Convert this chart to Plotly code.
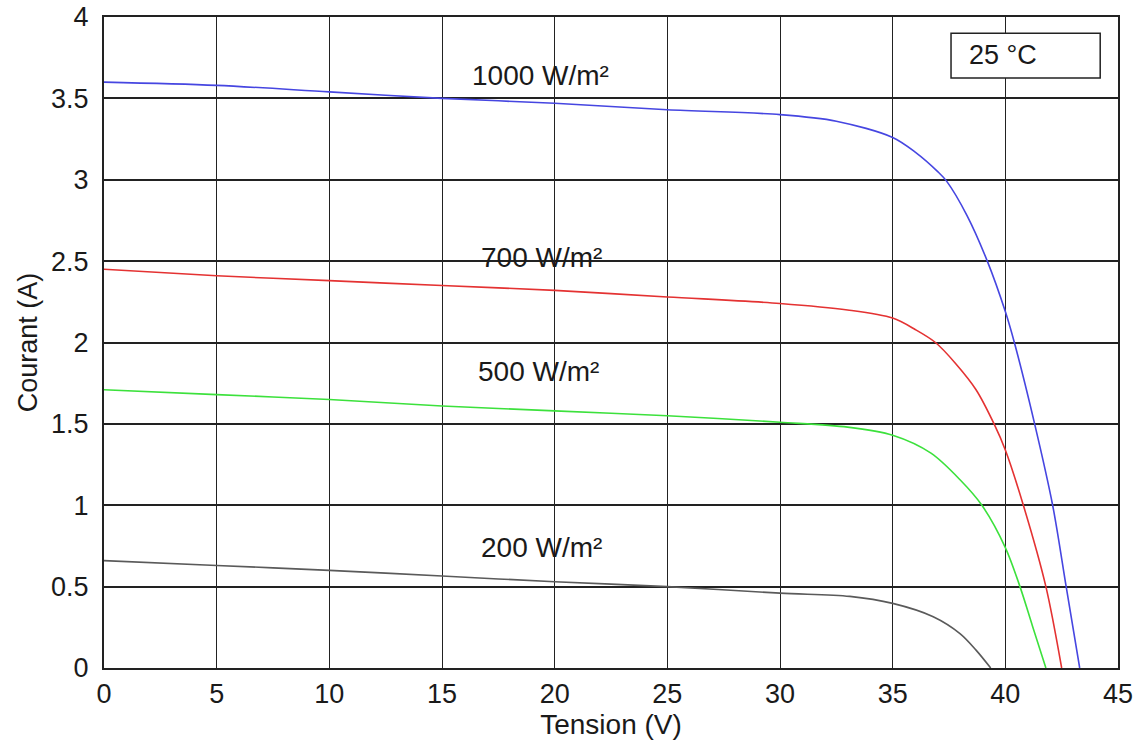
import plotly.graph_objects as go

# ---- data ----
v_1000 = [0, 5, 10, 15, 20, 25, 30, 32.5, 35, 36, 37, 37.4, 38.3, 39.2, 40, 40.4, 41.3, 42.1, 42.7, 43.3]
i_1000 = [3.60, 3.58, 3.54, 3.50, 3.47, 3.43, 3.40, 3.36, 3.26, 3.17, 3.05, 2.99, 2.78, 2.50, 2.19, 2.00, 1.50, 1.00, 0.50, 0.0]

v_700 = [0, 5, 10, 15, 20, 25, 30, 33, 35, 36, 36.9, 37.8, 38.7, 39.5, 40, 40.8, 41.8, 42.5]
i_700 = [2.45, 2.41, 2.38, 2.35, 2.32, 2.28, 2.24, 2.20, 2.15, 2.08, 2.00, 1.87, 1.71, 1.50, 1.34, 1.00, 0.50, 0.0]

v_500 = [0, 5, 10, 15, 20, 25, 30, 33, 35, 36.7, 38, 38.96, 40, 40.65, 41.2, 41.8]
i_500 = [1.71, 1.68, 1.65, 1.61, 1.58, 1.55, 1.51, 1.48, 1.43, 1.32, 1.155, 1.00, 0.74, 0.50, 0.26, 0.0]

v_200 = [0, 5, 10, 15, 20, 25, 30, 33.1, 35, 36.8, 38.0, 38.7, 39.35]
i_200 = [0.66, 0.63, 0.60, 0.565, 0.53, 0.50, 0.46, 0.44, 0.397, 0.315, 0.21, 0.11, 0.0]

series_names = ["1000 W/m²", "700 W/m²", "500 W/m²", "200 W/m²"]
series_colors = ["rgb(70,70,225)", "rgb(228,50,50)", "rgb(60,225,60)", "rgb(90,90,90)"]
label_x = [19.35, 19.4, 19.3, 19.4]
label_y = [3.64, 2.52, 1.82, 0.74]

x_ticks = [0, 5, 10, 15, 20, 25, 30, 35, 40, 45]
y_ticks = [0, 0.5, 1, 1.5, 2, 2.5, 3, 3.5, 4]

temp_label = "25 °C"

FONT = "Liberation Sans, Arial, sans-serif"
TXT = "#1a1a1a"

fig = go.Figure()
for v, i, name, col in zip([v_1000, v_700, v_500, v_200],
                           [i_1000, i_700, i_500, i_200],
                           series_names, series_colors):
    fig.add_trace(go.Scatter(x=v, y=i, mode="lines", name=name,
                             line=dict(color=col, width=1.6, shape="spline", smoothing=0.9),
                             showlegend=False))

for name, lx, ly in zip(series_names, label_x, label_y):
    fig.add_annotation(x=lx, y=ly, xref="x", yref="y", text=name, showarrow=False,
                       font=dict(family=FONT, size=28, color=TXT), xanchor="center", yanchor="middle")

# temperature box
fig.add_shape(type="rect", xref="x", yref="y", x0=37.59, x1=44.21, y0=3.625, y1=3.90,
              line=dict(color="#222", width=1.5), fillcolor="white", layer="above")
fig.add_annotation(x=38.31, y=3.764, xref="x", yref="y", text=temp_label, showarrow=False,
                   font=dict(family=FONT, size=27, color=TXT), xanchor="left", yanchor="middle")

axis_common = dict(showline=True, linecolor="#222", linewidth=2, mirror=True,
                   showgrid=True, gridcolor="#222", zeroline=False, ticks="", automargin=False,
                   tickfont=dict(family=FONT, size=27, color=TXT))

fig.update_xaxes(range=[0, 45], tickvals=x_ticks, gridwidth=1.3, ticklabelstandoff=1,
                 title=dict(text="Tension (V)", font=dict(family=FONT, size=28, color=TXT), standoff=6),
                 **axis_common)
fig.update_yaxes(range=[0, 4], tickvals=y_ticks, gridwidth=2, ticklabelstandoff=8,
                 title=dict(text="Courant (A)", font=dict(family=FONT, size=27, color=TXT), standoff=6),
                 **axis_common)

fig.update_layout(width=1141, height=742, plot_bgcolor="white", paper_bgcolor="white",
                  margin=dict(l=104, r=23, t=17, b=74))

fig.write_html("out.html")
